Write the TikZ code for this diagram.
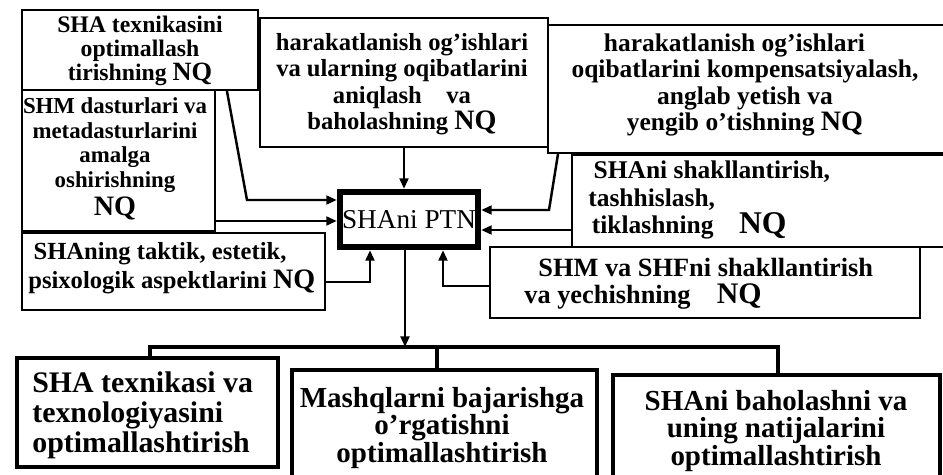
\documentclass[tikz,border=0pt]{standalone}
\usepackage{fontspec}
\setmainfont{Liberation Serif}
\usetikzlibrary{arrows.meta,fit,calc}
\newcommand\setfs[2]{\fontsize{#1}{#2}\selectfont}
\newcommand\NQ[1]{{\fontsize{#1}{#1}\selectfont NQ}}
\begin{document}
\begin{tikzpicture}[x=0.02cm,y=-0.02cm,
  box/.style={draw, line width=1.2pt, inner sep=0pt},
  bigbox/.style={draw, line width=2.8pt, inner sep=0pt},
  ptnbox/.style={draw, line width=3.6pt, inner sep=0pt},
  arr/.style={line width=1.4pt, -{Triangle[length=6pt,width=5pt]}},
  bus/.style={line width=2.4pt},
  txt/.style={inner sep=0pt, font=\bfseries}]
\fill[white] (0,0) rectangle (943,474);
\useasboundingbox (0,0) rectangle (943,474);

% top boxes
\node[box, fit={(22,10)(258,90)}] (A) {};
\node[txt, font=\bfseries\setfs{13.5}{13.5}, align=center] (At) at (140,51)
  {SHA texnikasini\\optimallash\\tirishning \NQ{15}};
\node[box, fit={(260,18)(548,147)}] (B) {};
\node[txt, font=\bfseries\setfs{14}{15}, align=center] (Bt) at (402,84)
  {harakatlanish og'ishlari\\va ularning oqibatlarini\\aniqlash\quad va\hspace*{20pt}\\baholashning \NQ{16}};
\node[box, fit={(548,25)(948,153)}] (C) {};
\node[txt, font=\bfseries\setfs{14.5}{15}, align=center] (Ct) at (745,85)
  {harakatlanish og'ishlari\hspace*{12pt}\\oqibatlarini kompensatsiyalash,\\anglab yetish va\\yengib o'tishning \NQ{16}};
\node[box, fit={(22,90)(215,231)}] (D) {};
\node[txt, font=\bfseries\setfs{13}{14}, align=center] (Dt) at (115,159)
  {SHM dasturlari va\\metadasturlarini\\amalga\\oshirishning\\[2pt]\NQ{16}};
\node[box, fit={(22,233)(325,310)}] (E) {};
\node[txt, font=\bfseries\setfs{14}{16.5}, align=left, anchor=west] (Et) at (28,268)
  {\hspace*{3pt}SHAning taktik, estetik,\\psixologik aspektlarini \NQ{16}};
\node[box, fit={(572,155)(948,247)}] (F) {};
\node[txt, font=\bfseries\setfs{14.5}{15.5}, align=left, anchor=west] (Ft) at (588,200)
  {\hspace*{3pt}SHAni shakllantirish,\\tashhislash,\\\hspace*{2pt}tiklashning\quad\NQ{18}};
\node[box, fit={(490,247)(920,318)}] (G) {};
\node[txt, font=\bfseries\setfs{15}{15.5}, align=left, anchor=west] (Gt) at (524,284)
  {\hspace*{8pt}SHM va SHFni shakllantirish\\va yechishning\quad\NQ{17}};

% central node
\node[ptnbox, fit={(340,192)(478,247)}] (P) {};
\node[inner sep=0pt, font=\setfs{15.5}{15.5}] (Pt) at (409,220) {SHAni PTN};

% bottom boxes
\node[bigbox, fit={(17,358)(278,467)}] (H1) {};
\node[txt, font=\bfseries\setfs{17}{17}, align=left, anchor=west] (H1t) at (32,415)
  {SHA texnikasi va\\texnologiyasini\\optimallashtirish};
\node[bigbox, fit={(292,370)(597,482)}] (H2) {};
\node[txt, font=\bfseries\setfs{16.5}{15.5}, align=center] (H2t) at (442,428)
  {Mashqlarni bajarishga\\o'rgatishni\\optimallashtirish};
\node[bigbox, fit={(613,375)(940,482)}] (H3) {};
\node[txt, font=\bfseries\setfs{16.5}{15.5}, align=center] (H3t) at (776,431)
  {SHAni baholashni va\\uning natijalarini\\optimallashtirish};

% connectors into PTN
\draw[arr] ($(A.south west)+(206,0)$) -- (247,200) -- (P.west |- 0,200);
\draw[arr] (D.east |- 0,221) -- (P.west |- 0,221);
\draw[arr] (E.east |- 0,282) -| (P.south -| 370,0);
\draw[arr] (B.south -| 404,0) -- (P.north -| 404,0);
\draw[arr] (C.south -| 558,0) -- (549,210) -- (P.east |- 0,210);
\draw[arr] (F.west |- 0,230) -- (P.east |- 0,230);
\draw[arr] (G.west |- 0,286) -| (P.south -| 443,0);

% PTN to bottom
\draw[arr] (P.south -| 405,0) -- (405,347);
\draw[bus] (H1.north -| 150,0) -- (150,347) -- (778,347) -- (H3.north -| 778,0);
\draw[bus] (437,347) -- (H2.north -| 437,0);
\end{tikzpicture}
\end{document}
